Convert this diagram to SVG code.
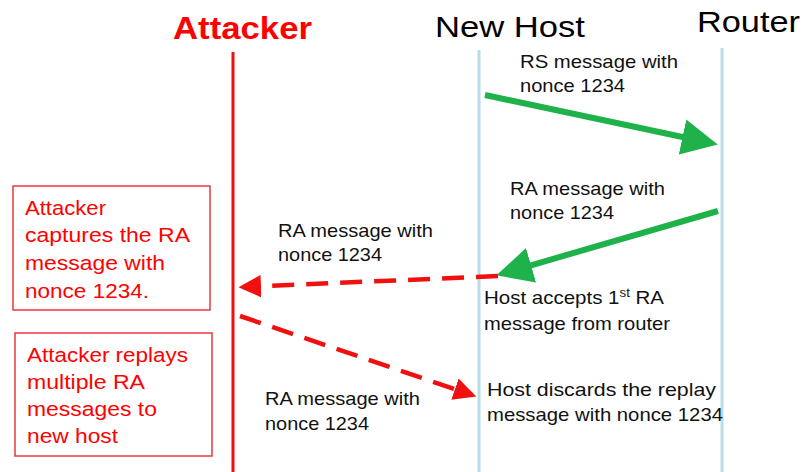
<svg xmlns="http://www.w3.org/2000/svg" width="804" height="472" viewBox="0 0 804 472">
<defs>
<style>
.t{font-family:"Liberation Sans",Arial,sans-serif;font-size:18.5px;fill:#111}
.r{font-family:"Liberation Sans",Arial,sans-serif;font-size:20.5px;fill:#f00}
.h{font-family:"Liberation Sans",Arial,sans-serif;fill:#000}
.box{fill:#fff;stroke:#e8383c;stroke-width:1.5}
.ga{stroke:#1fb24a;stroke-width:6;fill:none}
.ra{stroke:#f01010;stroke-width:4.5;fill:none;stroke-dasharray:22 12}
.life{stroke:#b7dde6;stroke-width:3}
</style>
<marker id="g" markerWidth="6" markerHeight="6" refX="4" refY="3" orient="auto" markerUnits="strokeWidth"><path d="M0,0 L6,3 L0,6 z" fill="#1fb24a"/></marker>
<marker id="rd" markerWidth="6" markerHeight="6" refX="4" refY="3" orient="auto" markerUnits="strokeWidth"><path d="M0,0.5 L5,3 L0,5.5 z" fill="#f01010"/></marker>
</defs>
<g id="attacker">
<text class="h" x="173" y="39" font-size="32" font-weight="bold" fill="#f00" style="fill:#f00" textLength="139" lengthAdjust="spacingAndGlyphs">Attacker</text>
<line x1="233" y1="52" x2="233" y2="472" stroke="#f01010" stroke-width="3"/>
</g>
<g id="newhost">
<text class="h" x="435" y="37" font-size="30" textLength="150" lengthAdjust="spacingAndGlyphs">New Host</text>
<line class="life" x1="479" y1="50" x2="479" y2="472"/>
</g>
<g id="router">
<text class="h" x="697" y="32" font-size="29" textLength="103" lengthAdjust="spacingAndGlyphs">Router</text>
<line class="life" x1="722" y1="48" x2="722" y2="472"/>
</g>
<g id="box1">
<rect class="box" x="13" y="186" width="197" height="124"/>
<text class="r" x="25" y="215" textLength="81" lengthAdjust="spacingAndGlyphs">Attacker</text>
<text class="r" x="25" y="242" textLength="165" lengthAdjust="spacingAndGlyphs">captures the RA</text>
<text class="r" x="25" y="270" textLength="140" lengthAdjust="spacingAndGlyphs">message with</text>
<text class="r" x="25" y="298" textLength="124" lengthAdjust="spacingAndGlyphs">nonce 1234.</text>
</g>
<g id="box2">
<rect class="box" x="15" y="333" width="197" height="123"/>
<text class="r" x="27" y="362" textLength="161" lengthAdjust="spacingAndGlyphs">Attacker replays</text>
<text class="r" x="27" y="389" textLength="118" lengthAdjust="spacingAndGlyphs">multiple RA</text>
<text class="r" x="27" y="416" textLength="130" lengthAdjust="spacingAndGlyphs">messages to</text>
<text class="r" x="27" y="443" textLength="91" lengthAdjust="spacingAndGlyphs">new host</text>
</g>
<g id="labels">
<text class="t" x="520" y="68" textLength="158" lengthAdjust="spacingAndGlyphs">RS message with</text>
<text class="t" x="520" y="92" textLength="105" lengthAdjust="spacingAndGlyphs">nonce 1234</text>
<text class="t" x="510" y="195" textLength="155" lengthAdjust="spacingAndGlyphs">RA message with</text>
<text class="t" x="510" y="219" textLength="104" lengthAdjust="spacingAndGlyphs">nonce 1234</text>
<text class="t" x="278" y="237" textLength="155" lengthAdjust="spacingAndGlyphs">RA message with</text>
<text class="t" x="278" y="261" textLength="104" lengthAdjust="spacingAndGlyphs">nonce 1234</text>
<text class="t" x="484" y="304" textLength="180" lengthAdjust="spacingAndGlyphs">Host accepts 1<tspan dy="-7" font-size="12">st</tspan><tspan dy="7"> RA</tspan></text>
<text class="t" x="484" y="330" textLength="186" lengthAdjust="spacingAndGlyphs">message from router</text>
<text class="t" x="265" y="405" textLength="155" lengthAdjust="spacingAndGlyphs">RA message with</text>
<text class="t" x="265" y="430" textLength="104" lengthAdjust="spacingAndGlyphs">nonce 1234</text>
<text class="t" x="487" y="396" textLength="229" lengthAdjust="spacingAndGlyphs">Host discards the replay</text>
<text class="t" x="487" y="421" textLength="236" lengthAdjust="spacingAndGlyphs">message with nonce 1234</text>
</g>
<g id="connectors">
<line class="ga" x1="485" y1="95" x2="706" y2="142" marker-end="url(#g)"/>
<line class="ga" x1="718" y1="211" x2="508" y2="272" marker-end="url(#g)"/>
<line class="ra" x1="498" y1="276" x2="243" y2="287" marker-end="url(#rd)"/>
<line class="ra" x1="240" y1="316" x2="472" y2="395" marker-end="url(#rd)"/>
</g>
</svg>
